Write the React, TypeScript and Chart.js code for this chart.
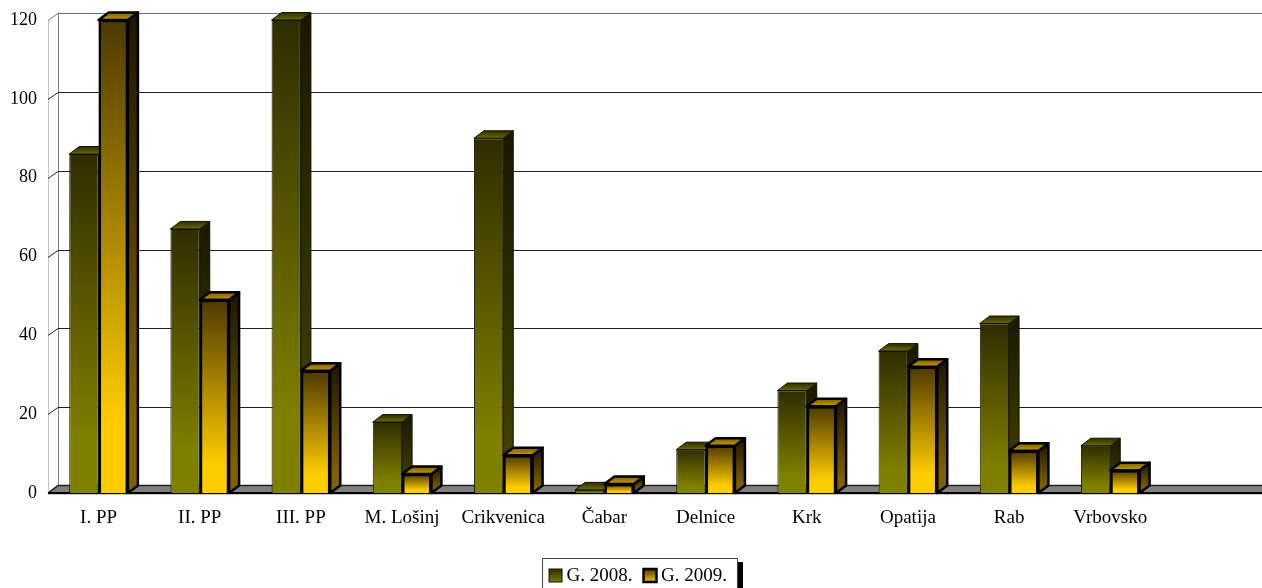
import React, { useEffect, useRef } from "react";
import { Chart, registerables } from "chart.js";

Chart.register(...registerables);

const categories = ["I. PP", "II. PP", "III. PP", "M. Lošinj", "Crikvenica", "Čabar", "Delnice", "Krk", "Opatija", "Rab", "Vrbovsko", ""];
const values2008 = [86, 67, 120, 18, 90, 0.8, 11, 26, 36, 43, 12, null];
const values2009 = [120, 49, 31, 4.8, 9.6, 2.3, 12, 22, 32, 10.7, 5.8, null];
const yTicks = [0, 20, 40, 60, 80, 100, 120];

const FONT = "'Liberation Serif', 'Times New Roman', serif";
const DX = 10;
const DY = 7.5;

const OLIVE = { front: ["#2f2d00", "#808000"], side: ["#191800", "#403f00"], top: ["#2f2d00", "#6a6a00"], stroke: "#121200", lw: 1 };
const GOLD = { front: ["#4d3900", "#ffcc00"], side: ["#1c1500", "#806000"], top: ["#7a5e00", "#c89c00"], stroke: "#000000", lw: 2.5 };
const STYLES = [OLIVE, GOLD];

function grad(c: CanvasRenderingContext2D, y0: number, y1: number, cols: string[], end = 0.85) {
  const g = c.createLinearGradient(0, y0, 0, Math.max(y1, y0 + 1));
  g.addColorStop(0, cols[0]);
  g.addColorStop(end, cols[1]);
  g.addColorStop(1, cols[1]);
  return g;
}

function frontFill(style: typeof OLIVE) {
  return (ctx: any) => {
    const y = ctx.chart.scales?.y;
    if (!y || ctx.type !== "data" || ctx.parsed?.y == null) return style.front[1];
    return grad(ctx.chart.ctx, y.getPixelForValue(ctx.parsed.y), y.getPixelForValue(0), style.front);
  };
}

function poly(c: CanvasRenderingContext2D, pts: number[][], fill: any, stroke: string, lw: number) {
  c.beginPath();
  pts.forEach((p, i) => (i ? c.lineTo(p[0], p[1]) : c.moveTo(p[0], p[1])));
  c.closePath();
  c.fillStyle = fill;
  c.fill();
  c.strokeStyle = stroke;
  c.lineWidth = lw;
  c.lineJoin = "round";
  c.stroke();
}

function drawFaces(chart: any, index: number) {
  const c = chart.ctx as CanvasRenderingContext2D;
  const s = STYLES[index];
  const base = chart.scales.y.getPixelForValue(0);
  chart.getDatasetMeta(index).data.forEach((el: any, i: number) => {
    if (chart.data.datasets[index].data[i] == null) return;
    const { x, y, width } = el.getProps(["x", "y", "width"], true);
    const L = x - width / 2, R = x + width / 2;
    poly(c, [[R, y], [R + DX, y - DY], [R + DX, base - DY], [R, base]], grad(c, y - DY, base, s.side), s.stroke, s.lw);
    poly(c, [[L, y], [L + DX, y - DY], [R + DX, y - DY], [R, y]], grad(c, y - DY, y, s.top, 1), s.stroke, s.lw);
  });
}

const walls3d = {
  id: "walls3d",
  afterLayout(chart: any) {
    // let the y tick labels extend past the axis box without being clipped
    chart.scales.y.left = 0;
  },
  beforeDatasetsDraw(chart: any) {
    const c = chart.ctx as CanvasRenderingContext2D;
    const { x, y } = chart.scales;
    const l = x.left, r = x.right, b = y.getPixelForValue(0);
    c.save();
    c.lineWidth = 1;
    c.strokeStyle = "#c4c4c4";
    c.beginPath(); c.moveTo(l + 0.5, y.getPixelForValue(120)); c.lineTo(l + 0.5, b); c.stroke();
    c.strokeStyle = "#808080";
    c.beginPath(); c.moveTo(l + DX + 0.5, y.getPixelForValue(120) - DY); c.lineTo(l + DX + 0.5, b - DY); c.stroke();
    yTicks.forEach((v) => {
      const py = Math.round(y.getPixelForValue(v));
      if (v === 0) return;
      c.strokeStyle = v === 120 ? "#707070" : "#202020";
      c.beginPath(); c.moveTo(l + DX, Math.round(py - DY) + 0.5); c.lineTo(r, Math.round(py - DY) + 0.5); c.stroke();
      c.beginPath(); c.moveTo(l, py + 0.5); c.lineTo(l + DX, Math.round(py - DY) + 0.5); c.stroke();
    });
    c.beginPath();
    c.moveTo(l, b); c.lineTo(l + DX, b - DY); c.lineTo(r + 2, b - DY); c.lineTo(r + 2, b); c.closePath();
    c.fillStyle = "#808080"; c.fill();
    c.strokeStyle = "#202020"; c.lineWidth = 1.5;
    c.beginPath(); c.moveTo(l, b); c.lineTo(l + DX, b - DY); c.lineTo(r + 2, b - DY); c.stroke();
    c.strokeStyle = "#000000"; c.lineWidth = 2;
    c.beginPath(); c.moveTo(l, b); c.lineTo(r + 2, b); c.stroke();
    c.strokeStyle = "#c8c8c8"; c.lineWidth = 1;
    c.beginPath(); c.moveTo(l, b + 1.5); c.lineTo(r, b + 1.5); c.stroke();
    c.restore();
  },
  afterDatasetsDraw(chart: any) {
    // the first series must lie behind the second: faces of series 0, then series 1 on top
    const c = chart.ctx as CanvasRenderingContext2D;
    c.save();
    drawFaces(chart, 0);
    chart.getDatasetMeta(1).data.forEach((el: any, i: number) => {
      if (chart.data.datasets[1].data[i] != null) el.draw(c);
    });
    drawFaces(chart, 1);
    c.restore();
  },
};

const legendBoxes = {
  id: "legendBoxes",
  beforeDraw(chart: any) {
    const c = chart.ctx as CanvasRenderingContext2D;
    const hb = chart.legend.legendHitBoxes;
    if (!hb?.length) return;
    const left = hb[0].left - 7;
    const right = hb[hb.length - 1].left + hb[hb.length - 1].width + 10;
    const top = hb[0].top + hb[0].height / 2 - 18;
    c.save();
    c.fillStyle = "#000";
    c.fillRect(left + 6, top + 4, right - left, 40);
    c.fillStyle = "#fff";
    c.strokeStyle = "#444";
    c.lineWidth = 1;
    c.fillRect(left, top, right - left, 40);
    c.strokeRect(left + 0.5, top + 0.5, right - left, 40);
    c.restore();
  },
  afterDraw(chart: any) {
    const c = chart.ctx as CanvasRenderingContext2D;
    const hb = chart.legend.legendHitBoxes;
    if (!hb?.length) return;
    c.save();
    hb.forEach((h: any, i: number) => {
      const s = STYLES[i];
      const cy = h.top + h.height / 2;
      const x = h.left;
      c.fillStyle = grad(c, cy - 7, cy + 7, s.front, 1);
      c.fillRect(x, cy - 7, 13, 13);
      c.strokeStyle = s.stroke;
      c.lineWidth = s.lw;
      c.strokeRect(x, cy - 7, 13, 13);
    });
    c.restore();
  },
};

export default function App() {
  const ref = useRef<HTMLCanvasElement>(null);
  useEffect(() => {
    document.body.style.margin = "0";
    const chart = new Chart(ref.current!, {
      type: "bar",
      data: {
        labels: categories,
        datasets: [
          { label: "G. 2008.", data: values2008, backgroundColor: frontFill(OLIVE), borderColor: OLIVE.stroke, borderWidth: OLIVE.lw },
          { label: "G. 2009.", data: values2009, backgroundColor: frontFill(GOLD), borderColor: GOLD.stroke, borderWidth: GOLD.lw },
        ] as any,
      },
      options: {
        animation: false,
        responsive: false,
        devicePixelRatio: 1,
        layout: { padding: { left: 14, top: 20, right: 0, bottom: -7.5 } },
        datasets: { bar: { categoryPercentage: 0.58, barPercentage: 1 } },
        scales: {
          x: {
            grid: { display: false, drawTicks: false },
            border: { display: false },
            ticks: { color: "#000", font: { family: FONT, size: 19 }, padding: 14, autoSkip: false, maxRotation: 0 },
            afterFit: (s: any) => { s.height = 62.5; },
          },
          y: {
            min: 0,
            max: 120,
            grid: { display: false, drawTicks: false },
            border: { display: false },
            afterBuildTicks: (s: any) => { s.ticks = yTicks.map((value) => ({ value })); },
            ticks: { color: "#000", font: { family: FONT, size: 18 }, padding: 11 },
            afterFit: (s: any) => { s.width = 34; s.paddingTop = 0; s.paddingBottom = 0; },
          },
        },
        plugins: {
          tooltip: { enabled: false },
          legend: {
            position: "bottom",
            labels: {
              color: "#000",
              font: { family: FONT, size: 19 },
              boxWidth: 8,
              boxHeight: 8,
              padding: 11,
              generateLabels: (ch: any) =>
                ch.data.datasets.map((d: any, i: number) => ({
                  text: d.label,
                  fillStyle: "rgba(0,0,0,0)",
                  strokeStyle: "rgba(0,0,0,0)",
                  lineWidth: 0,
                  datasetIndex: i,
                })),
            },
          },
        },
      },
      plugins: [walls3d, legendBoxes],
    } as any);
    return () => chart.destroy();
  }, []);
  return (
    <div style={{ position: "absolute", left: 0, top: 0, width: 1262, height: 588, background: "#fff", overflow: "hidden" }}>
      <canvas ref={ref} width={1262} height={588} style={{ display: "block" }} />
    </div>
  );
}
